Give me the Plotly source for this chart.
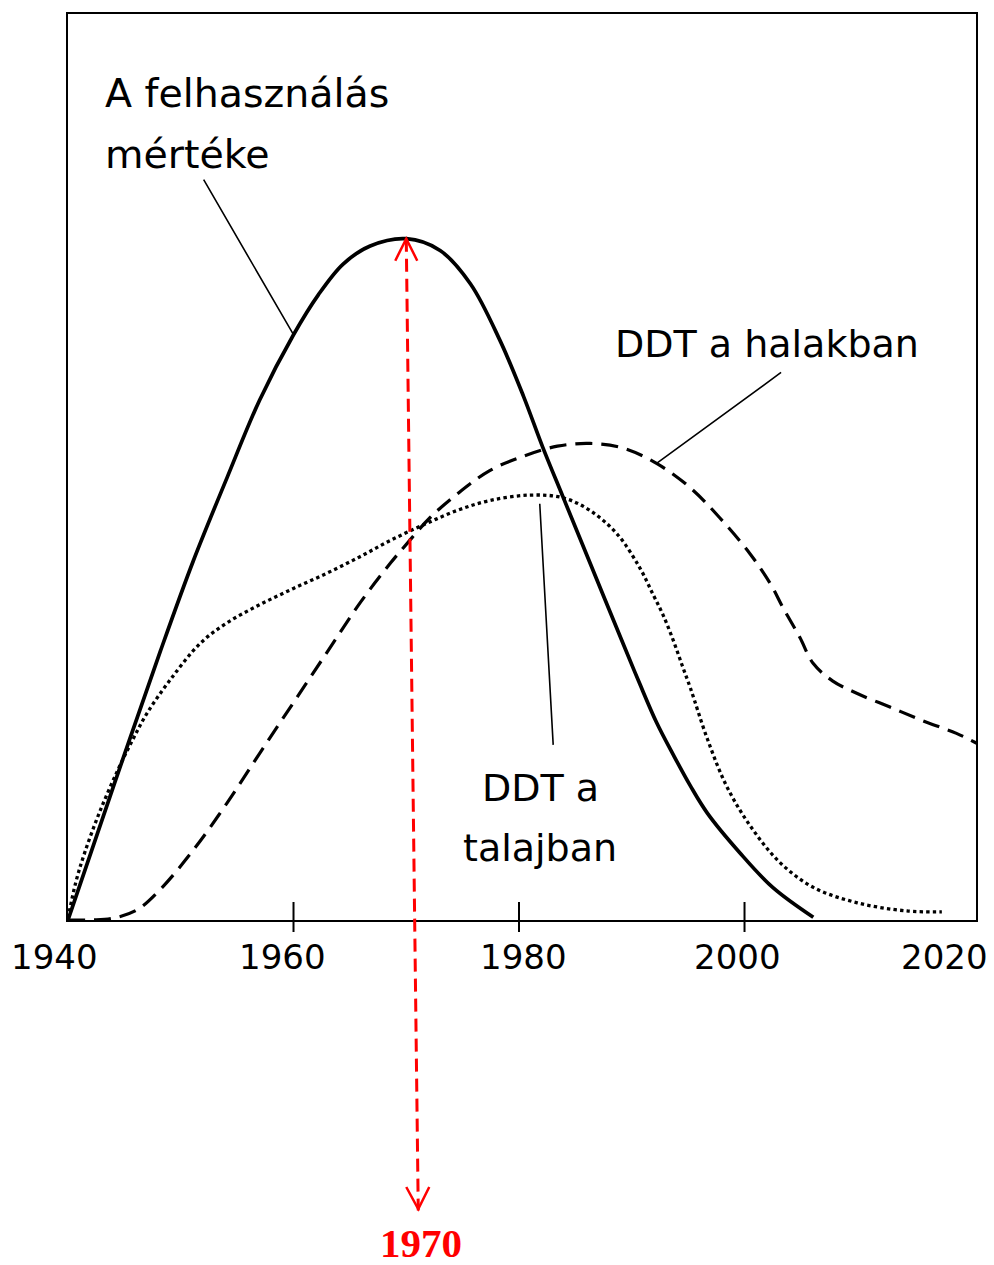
import numpy as np
import plotly.graph_objects as go

# DDT usage, DDT in fish, DDT in soil (relative units) over the years
usage_year = [1940.0, 1944.1, 1948.2, 1951.1, 1954.1, 1957.0, 1960.0, 1962.2, 1964.4, 1966.8,
              1970.0, 1973.0, 1975.7, 1978.3, 1980.4, 1982.1, 1983.9, 1986.3, 1989.2, 1990.7,
              1992.2, 1993.7, 1995.2, 1996.7, 1999.6, 2002.5, 2006.1]
usage_val = [0.0, 15.0, 29.7, 39.6, 48.8, 57.4, 64.6, 69.0, 72.4, 74.4,
             75.2, 73.9, 70.2, 64.0, 57.8, 52.2, 46.7, 39.4, 30.6, 26.1,
             21.8, 18.2, 14.8, 11.8, 7.4, 3.6, 0.3]

fish_year = [1940.0, 1942.2, 1944.0, 1946.1, 1948.2, 1951.1, 1954.1, 1957.0, 1960.0, 1963.0,
             1965.9, 1968.6, 1970.1, 1972.1, 1974.5, 1977.4, 1980.4, 1983.4, 1986.3, 1989.2,
             1992.2, 1995.2, 1997.8, 2000.5, 2002.3, 2003.4, 2004.9, 2006.1, 2007.8, 2010.0,
             2012.9, 2015.8, 2018.8, 2020.6]
fish_val = [0.0, 0.0, 0.2, 1.1, 3.4, 7.7, 12.9, 18.4, 24.0, 29.6,
            35.0, 39.4, 41.6, 44.4, 47.0, 49.6, 51.2, 52.3, 52.6, 52.1,
            50.4, 47.7, 44.4, 40.4, 37.1, 34.5, 31.2, 28.3, 26.4, 25.0,
            23.5, 22.0, 20.6, 19.5]

soil_year = [1940.0, 1940.7, 1941.5, 1942.8, 1944.4, 1945.7, 1947.0, 1949.0, 1951.7, 1954.1,
             1957.0, 1960.0, 1963.0, 1965.9, 1968.6, 1971.5, 1974.5, 1977.4, 1981.0, 1983.9,
             1986.3, 1988.7, 1990.7, 1991.9, 1992.8, 1993.7, 1994.5, 1995.2, 1996.7, 1998.4,
             2000.5, 2003.1, 2006.1, 2010.0, 2014.4, 2017.5]
soil_val = [0.2, 4.2, 7.5, 11.9, 16.5, 19.8, 22.8, 26.4, 30.5, 32.8,
            34.8, 36.6, 38.3, 40.1, 41.9, 43.6, 45.2, 46.3, 46.9, 46.6,
            45.2, 42.6, 38.9, 35.9, 33.6, 30.8, 28.0, 25.6, 20.0, 14.8,
            10.4, 6.4, 3.6, 1.9, 1.0, 0.9]

tick_years = [1940, 1960, 1980, 2000, 2020]
tick_marks = [1960, 1980, 2000]
peak_year_label = 1970

X_RANGE = [1940, 2020.53]
Y_RANGE = [0, 100]
PLOT_H = 908  # plot area height in pixels

LABEL_FONT = "DejaVu Sans"

fig = go.Figure()
fig.add_trace(go.Scatter(x=soil_year, y=soil_val, mode="lines",
                         line=dict(color="black", width=3.3, dash="3.4px,3.2px",
                                   shape="spline", smoothing=1.0)))
fig.add_trace(go.Scatter(x=fish_year, y=fish_val, mode="lines",
                         line=dict(color="black", width=3.2, dash="17px,9px",
                                   shape="spline", smoothing=1.0)))
fig.add_trace(go.Scatter(x=usage_year, y=usage_val, mode="lines",
                         line=dict(color="black", width=3.7, shape="spline", smoothing=1.0)))

shapes = []
# crossing tick marks on the time axis
for yr in tick_marks:
    shapes.append(dict(type="line", xref="x", yref="paper", ysizemode="pixel", yanchor=0,
                       x0=yr, x1=yr, y0=-12, y1=18, line=dict(color="black", width=2)))

# red double arrow from the usage peak down below the axis
peak_val = max(usage_val)
top_paper = (peak_val - Y_RANGE[0]) / (Y_RANGE[1] - Y_RANGE[0])
bottom_shift = -289  # pixels below the axis line
shapes.append(dict(type="line", xref="x", yref="paper", xsizemode="pixel", ysizemode="pixel",
                   xanchor=peak_year_label, yanchor=top_paper,
                   x0=0, x1=12, y0=0, y1=-(top_paper * PLOT_H) + bottom_shift,
                   line=dict(color="#ff0000", width=3, dash="13px,7px")))
shapes.append(dict(type="path", xref="x", yref="paper", xsizemode="pixel", ysizemode="pixel",
                   xanchor=peak_year_label, yanchor=top_paper,
                   path="M-11,-22 L0,0 L11,-22", line=dict(color="#ff0000", width=2.5)))
shapes.append(dict(type="path", xref="x", yref="paper", xsizemode="pixel", ysizemode="pixel",
                   xanchor=peak_year_label, yanchor=0,
                   path="M0,%d L12,%d L23,%d" % (bottom_shift + 22, bottom_shift, bottom_shift + 22),
                   line=dict(color="#ff0000", width=2.5)))

annotations = []
# tick labels
label_shift = {1940: -14, 1960: -11, 1980: 4, 2000: -7, 2020: -26}
for yr in tick_years:
    annotations.append(dict(x=yr, y=0, xref="x", yref="paper", text=str(yr), showarrow=False,
                            xanchor="center", yanchor="middle", xshift=label_shift[yr], yshift=-37,
                            font=dict(family=LABEL_FONT, size=34, color="black")))

annotations.append(dict(x=peak_year_label, y=0, xref="x", yref="paper", text="<b>%d</b>" % peak_year_label,
                        showarrow=False, xanchor="center", yanchor="middle", xshift=15, yshift=-323,
                        font=dict(family="Liberation Serif", size=41, color="#ff0000")))

# curve labels
def text_label(txt, x, y, anchor="left", size=38):
    return dict(x=x, y=y, xref="paper", yref="paper", text=txt, showarrow=False,
                xanchor=anchor, yanchor="middle",
                font=dict(family=LABEL_FONT, size=size, color="black"))

annotations += [
    text_label("A felhasználás", 0.0385, 0.913, size=39.5),
    text_label("mértéke", 0.0385, 0.8458, size=39.5),
    text_label("DDT a halakban", 0.600, 0.6355),
    text_label("DDT a", 0.520, 0.1454, "center"),
    text_label("talajban", 0.520, 0.0793, "center"),
]

# leader lines from the labels to the curves
def leader(xs, ys, yr, ax, ay, standoff=0):
    return dict(x=yr, y=float(np.interp(yr, xs, ys)), xref="x", yref="y", text=" ",
                showarrow=True, arrowhead=0, arrowwidth=1.6, arrowcolor="black",
                ax=ax, ay=ay, standoff=standoff, font=dict(size=1))

annotations += [
    leader(usage_year, usage_val, 1960.0, -91, -157),
    leader(fish_year, fish_val, 1992.2, 126, -92),
    leader(soil_year, soil_val, 1981.8, 14, 251, standoff=8),
]

fig.update_layout(
    width=994, height=1265,
    margin=dict(l=68, r=18, t=12, b=345, pad=0),
    paper_bgcolor="white", plot_bgcolor="white",
    showlegend=False,
    shapes=shapes, annotations=annotations,
    xaxis=dict(range=X_RANGE, showgrid=False, zeroline=False, showticklabels=False, ticks="",
               showline=True, linecolor="black", linewidth=2, mirror=True, fixedrange=True),
    yaxis=dict(range=Y_RANGE, showgrid=False, zeroline=False, showticklabels=False, ticks="",
               showline=True, linecolor="black", linewidth=2, mirror=True, fixedrange=True),
)

fig.write_html("out.html")
